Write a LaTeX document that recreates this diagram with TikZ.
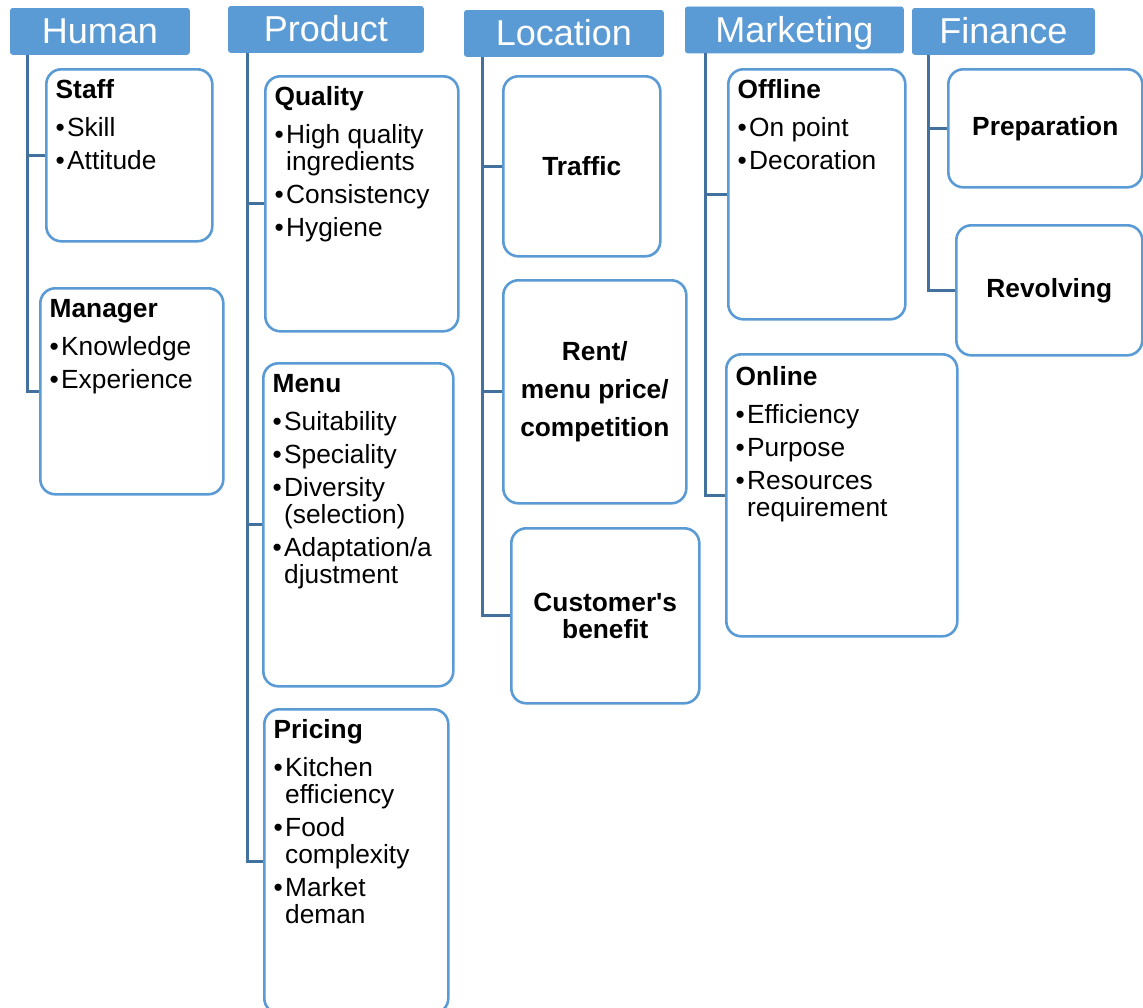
\documentclass[tikz,border=0pt]{standalone}
\usepackage{fontspec}
\setmainfont{Liberation Sans}[Ligatures=TeXOff]
\definecolor{hdrblue}{HTML}{5B9BD5}
\definecolor{boxblue}{HTML}{5B9BD5}
\definecolor{linkblue}{HTML}{41719C}
% bullet and hanging indent for list items
\newcommand\bl{\makebox[11.5pt][l]{•}}
\newcommand\hg{\hspace*{11.5pt}}
\newcommand\ttl[1]{\textbf{\rule{0pt}{24pt}#1}}
\begin{document}
\begin{tikzpicture}[x=1pt,y=-1pt,
  hdr/.style={fill=hdrblue, draw=hdrblue, line width=0.8, rounded corners=2.5,
    anchor=north west, inner sep=0, text=white,
    font=\fontsize{36}{40}\selectfont, text height=25, text depth=0},
  box/.style={draw=boxblue, fill=white, line width=2.6, rounded corners=15,
    anchor=north west, inner sep=0},
  lst/.style={anchor=north west, inner sep=0, align=left,
    font=\fontsize{26.3}{27}\selectfont},
  ctr/.style={align=center, inner sep=0,
    font=\bfseries\fontsize{26.3}{27}\selectfont},
  conn/.style={draw=linkblue, line width=3}]
\useasboundingbox (0,0) rectangle (1143,1007);

% category headers
\node[hdr, minimum width=179, minimum height=46] (human) at (10,8) {Human};
\node[hdr, minimum width=195, minimum height=46] (product) at (228,6) {Product};
\node[hdr, minimum width=199, minimum height=46] (location) at (464,10) {Location};
\node[hdr, minimum width=218, minimum height=46] (marketing) at (685,6.5) {Marketing};
\node[hdr, minimum width=182, minimum height=46] (finance) at (912,8) {Finance};

% trunk start points under each header
\coordinate (hum-t) at ([xshift=17]human.south west);
\coordinate (pro-t) at ([xshift=19]product.south west);
\coordinate (loc-t) at ([xshift=18.5]location.south west);
\coordinate (mkt-t) at ([xshift=20.5]marketing.south west);
\coordinate (fin-t) at ([xshift=16]finance.south west);

% sub-topic boxes
\node[box, minimum width=166, minimum height=172] (staff) at (45,68) {};
\node[box, minimum width=183, minimum height=206] (manager) at (39,287) {};
\node[box, minimum width=193, minimum height=255] (quality) at (264,75) {};
\node[box, minimum width=190, minimum height=323] (menu) at (262,362) {};
\node[box, minimum width=184, minimum height=304] (pricing) at (263,708) {};
\node[box, minimum width=157, minimum height=180] (traffic) at (502,75) {};
\node[box, minimum width=183, minimum height=223] (rent) at (502,279) {};
\node[box, minimum width=188, minimum height=175] (customer) at (510,527) {};
\node[box, minimum width=177, minimum height=250] (offline) at (727,68) {};
\node[box, minimum width=231, minimum height=282] (online) at (725,353) {};
\node[box, minimum width=194, minimum height=118] (prep) at (947,68) {};
\node[box, minimum width=186, minimum height=130] (revolving) at (955,224) {};

% connectors
\draw[conn] (hum-t) |- (staff.west);
\draw[conn] (hum-t) |- (manager.west);
\draw[conn] (pro-t) |- (quality.west);
\draw[conn] (pro-t) |- (menu.west);
\draw[conn] (pro-t) |- (pricing.west);
\draw[conn] (loc-t) |- (traffic.west);
\draw[conn] (loc-t) |- (rent.west);
\draw[conn] (loc-t) |- (customer.west);
\draw[conn] (mkt-t) |- (offline.west);
\draw[conn] (mkt-t) |- (online.west);
\draw[conn] (fin-t) |- (prep.west);
\draw[conn] (fin-t) |- (revolving.west);

% box contents
\node[lst] (staff-t) at ([shift={(10.5,6)}]staff.north west)
  {\ttl{Staff}\\[11pt]\bl Skill\\[6pt]\bl Attitude};
\node[lst] (manager-t) at ([shift={(10.5,6)}]manager.north west)
  {\ttl{Manager}\\[11pt]\bl Knowledge\\[6pt]\bl Experience};
\node[lst] (quality-t) at ([shift={(10.5,6)}]quality.north west)
  {\ttl{Quality}\\[11pt]\bl High quality\\\hg ingredients\\[6pt]\bl Consistency\\[6pt]\bl Hygiene};
\node[lst] (menu-t) at ([shift={(10.5,6)}]menu.north west)
  {\ttl{Menu}\\[11pt]\bl Suitability\\[6pt]\bl Speciality\\[6pt]\bl Diversity\\\hg (selection)\\[6pt]\bl Adaptation/a\\\hg djustment};
\node[lst] (pricing-t) at ([shift={(10.5,6)}]pricing.north west)
  {\ttl{Pricing}\\[11pt]\bl Kitchen\\\hg efficiency\\[6pt]\bl Food\\\hg complexity\\[6pt]\bl Market\\\hg deman};
\node[lst] (offline-t) at ([shift={(10.5,6)}]offline.north west)
  {\ttl{Offline}\\[11pt]\bl On point\\[6pt]\bl Decoration};
\node[lst] (online-t) at ([shift={(10.5,8)}]online.north west)
  {\ttl{Online}\\[11pt]\bl Efficiency\\[6pt]\bl Purpose\\[6pt]\bl Resources\\\hg requirement};

\node[ctr] (traffic-t) at (traffic.center) {Traffic};
\node[ctr] (rent-t) at (rent.center) {Rent/\\[11pt]menu price/\\[11pt]competition};
\node[ctr] (customer-t) at (customer.center) {Customer's\\benefit};
\node[ctr] (prep-t) at (prep.center) {Preparation};
\node[ctr] (revolving-t) at (revolving.center) {Revolving};
\end{tikzpicture}
\end{document}
